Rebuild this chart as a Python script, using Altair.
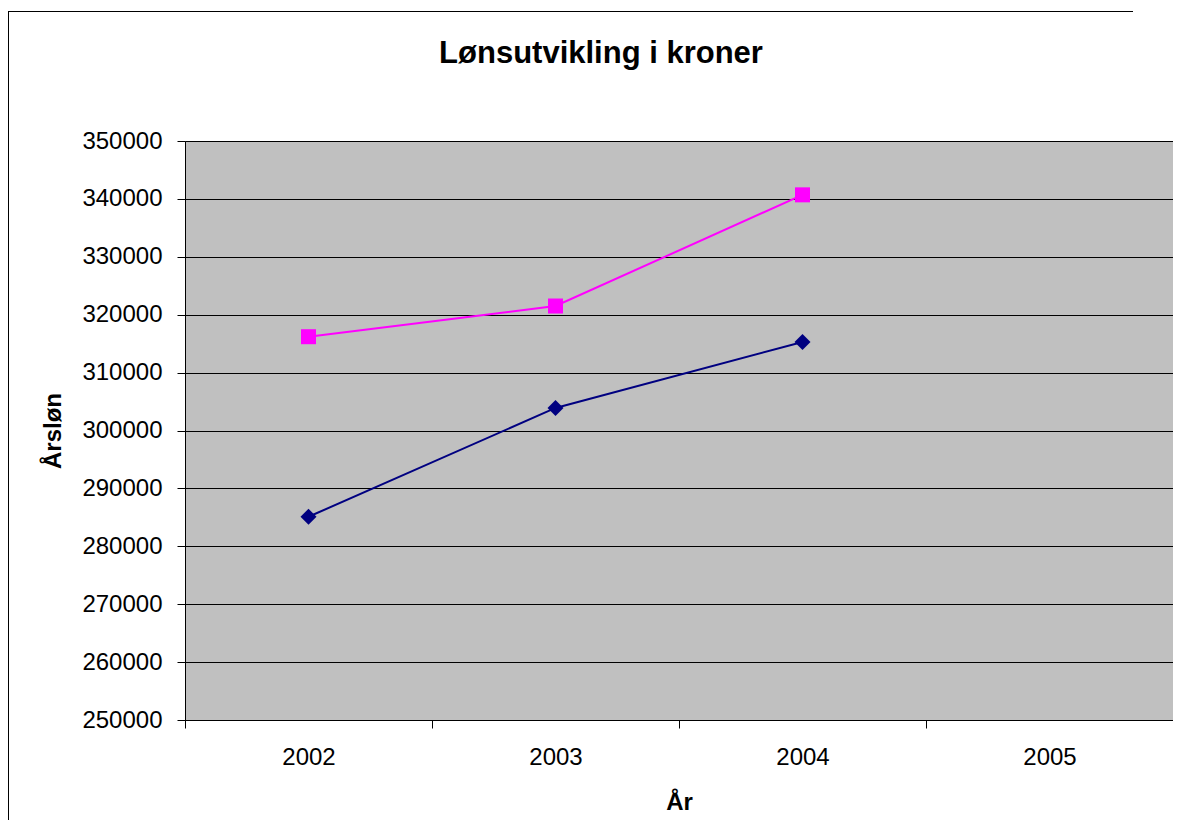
import altair as alt
import pandas as pd

# ---- data ----
years = ["2002", "2003", "2004", "2005"]
data_years = ["2002", "2003", "2004"]
series_names = ["Serie 1", "Serie 2"]
serie_1 = [285100, 303900, 315300]   # navy diamonds
serie_2 = [316200, 321500, 340700]   # magenta squares
y_ticks = list(range(250000, 350001, 10000))
title_text = "Lønsutvikling i kroner"
x_title = "År"
y_title = "Årsløn"

df = pd.DataFrame({
    "År": data_years * 2,
    "Årsløn": serie_1 + serie_2,
    "Serie": [series_names[0]] * 3 + [series_names[1]] * 3,
})

FONT = "Liberation Sans"
W, H = 988, 579

x_enc = alt.X(
    "År:N",
    scale=alt.Scale(domain=years, paddingInner=0, paddingOuter=0),
    axis=alt.Axis(
        title=x_title, labelAngle=0, tickBand="extent", grid=False,
        domainColor="black", tickColor="black", tickSize=8,
        labelFontSize=24, labelColor="black", labelFont=FONT,
        labelBaseline="middle", labelPadding=29,
        titleFontSize=24, titleFont=FONT, titleFontWeight="bold", titleColor="black",
        titleX=W / 2, titleY=82, titleBaseline="middle", titleAlign="center",
    ),
)
y_enc = alt.Y(
    "Årsløn:Q",
    scale=alt.Scale(domain=[250000, 350000], nice=False, zero=False),
    axis=alt.Axis(
        title=y_title, values=y_ticks, format="d", grid=True,
        gridColor="black", gridWidth=1, gridOpacity=1,
        domainColor="black", tickColor="black", tickSize=8,
        labelFontSize=24, labelColor="black", labelFont=FONT, labelPadding=15,
        titleFontSize=24, titleFont=FONT, titleFontWeight="bold", titleColor="black",
        titleX=-132, titleY=H / 2, titleAngle=-90, titleBaseline="middle", titleAlign="center",
    ),
)
color_enc = alt.Color(
    "Serie:N",
    scale=alt.Scale(domain=series_names, range=["#000080", "#FF00FF"]),
    legend=None,
)

lines = alt.Chart(df).mark_line(strokeWidth=2).encode(x=x_enc, y=y_enc, color=color_enc)
points = alt.Chart(df).mark_point(filled=True, opacity=1).encode(
    x=x_enc, y=y_enc, color=color_enc,
    shape=alt.Shape("Serie:N", scale=alt.Scale(domain=series_names, range=["diamond", "square"]), legend=None),
    size=alt.Size("Serie:O", scale=alt.Scale(domain=series_names, range=[256, 225]), legend=None),
)

title = alt.Chart(alt.Data(values=[{}])).mark_text(
    text=title_text, font=FONT, fontSize=31, fontWeight="bold", color="black",
    align="center", baseline="middle",
).encode(x=alt.value(416), y=alt.value(-87))

# outer chart frame: thin filled bars for the top and left edges
frame_top = alt.Chart(alt.Data(values=[{}])).mark_rect(color="black", strokeWidth=0).encode(
    x=alt.value(-177), x2=alt.value(W - 40), y=alt.value(-130), y2=alt.value(-129))
frame_left = alt.Chart(alt.Data(values=[{}])).mark_rect(color="black", strokeWidth=0).encode(
    x=alt.value(-177), x2=alt.value(-176), y=alt.value(-130), y2=alt.value(H + 120))

chart = alt.layer(frame_top, frame_left, lines, points, title).properties(
    width=W, height=H,
    autosize=alt.AutoSizeParams(type="none"),
    padding={"left": 177, "top": 133, "right": 0, "bottom": 100},
    background="white",
).configure(
    font=FONT,
).configure_view(
    fill="#C0C0C0", stroke="#808080", strokeWidth=1,
)

chart.save("out.html", embed_options={"renderer": "svg", "actions": False})
